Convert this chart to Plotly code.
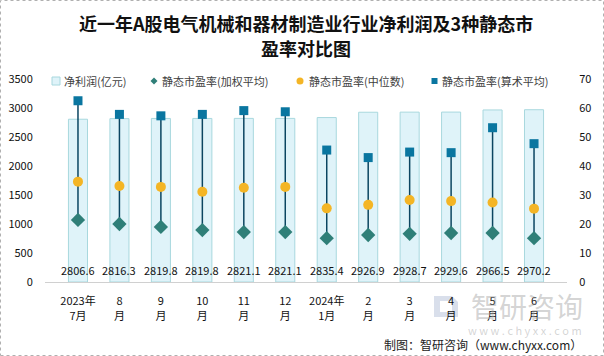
import plotly.graph_objects as go

categories = ["2023年<br>7月", "8<br>月", "9<br>月", "10<br>月", "11<br>月", "12<br>月",
              "2024年<br>1月", "2<br>月", "3<br>月", "4<br>月", "5<br>月", "6<br>月"]
net_profit = [2806.6, 2816.3, 2819.8, 2819.8, 2821.1, 2821.1, 2835.4, 2926.9, 2928.7, 2929.6, 2966.5, 2970.2]
pe_weighted = [21.4, 20.0, 19.0, 17.9, 17.2, 17.2, 15.1, 16.2, 16.6, 16.9, 16.9, 15.1]
pe_median = [34.6, 33.1, 32.8, 31.1, 32.5, 32.8, 25.4, 26.6, 28.3, 27.9, 27.4, 25.3]
pe_arith = [62.5, 57.8, 57.3, 57.8, 59.1, 58.7, 45.5, 42.9, 44.8, 44.6, 53.2, 47.7]
left_ticks = [0, 500, 1000, 1500, 2000, 2500, 3000, 3500]
right_ticks = [0, 10, 20, 30, 40, 50, 60, 70]
series_names = ["净利润(亿元)", "静态市盈率(加权平均)", "静态市盈率(中位数)", "静态市盈率(算术平均)"]

FONT = "Noto Sans CJK SC"
W, H = 604, 356
L, R, T, B = 45, 37, 79, 74
PW, PH = W - L - R, H - T - B

C_BAR, C_BAR_LINE = "#dff3f9", "#a8d8de"
C_W, C_M, C_A, C_LINE = "#2f7f78", "#f4b525", "#0a76a0", "#0b4561"


def px_x(x):
    return (x - L) / PW


def px_y(y):
    return (H - B - y) / PH


fig = go.Figure()

fig.add_trace(go.Bar(
    x=categories, y=net_profit, name=series_names[0],
    marker=dict(color=C_BAR, line=dict(color=C_BAR_LINE, width=1)),
    yaxis="y", showlegend=False,
))

# high-low lines
lx, ly = [], []
for c, hi, lo in zip(categories, pe_arith, pe_weighted):
    lx += [c, c, None]
    ly += [max(hi, lo), min(hi, lo), None]
fig.add_trace(go.Scatter(x=lx, y=ly, mode="lines", line=dict(color=C_LINE, width=1.5),
                         showlegend=False, hoverinfo="skip", yaxis="y2"))

fig.add_trace(go.Scatter(x=categories, y=pe_weighted, mode="markers", name=series_names[1],
                         marker=dict(symbol="diamond", size=11, color=C_W), yaxis="y2",
                         showlegend=False))
fig.add_trace(go.Scatter(x=categories, y=pe_median, mode="markers", name=series_names[2],
                         marker=dict(symbol="circle", size=10, color=C_M), yaxis="y2",
                         showlegend=False))
fig.add_trace(go.Scatter(x=categories, y=pe_arith, mode="markers", name=series_names[3],
                         marker=dict(symbol="square", size=9, color=C_A), yaxis="y2",
                         showlegend=False))

annotations = []
for c, v in zip(categories, net_profit):
    annotations.append(dict(x=c, y=0, xref="x", yref="y", text=f"{v:.1f}", showarrow=False,
                            yshift=12, font=dict(size=11, color="#111111", family=FONT)))

# legend (drawn manually to match spacing)
LEG_Y = 81
leg_text_x = [62, 160, 307, 440]
for name, tx in zip(series_names, leg_text_x):
    annotations.append(dict(x=px_x(tx), y=px_y(LEG_Y), xref="paper", yref="paper",
                            xanchor="left", yanchor="middle", text=name, showarrow=False,
                            font=dict(size=11, color="#404040", family=FONT)))

annotations += [
    dict(x=0.5, y=px_y(23), xref="paper", yref="paper", xanchor="center", yanchor="middle",
         text="<b>近一年A股电气机械和器材制造业行业净利润及3种静态市</b>", showarrow=False,
         font=dict(size=18, color="#111111", family=FONT)),
    dict(x=0.5, y=px_y(48), xref="paper", yref="paper", xanchor="center", yanchor="middle",
         text="<b>盈率对比图</b>", showarrow=False,
         font=dict(size=18, color="#111111", family=FONT)),
    dict(x=px_x(585), y=px_y(306), xref="paper", yref="paper", xanchor="right", yanchor="middle",
         text="智研咨询", showarrow=False,
         font=dict(size=28, color="rgba(160,160,160,0.45)", family=FONT)),
    dict(x=px_x(584), y=px_y(330), xref="paper", yref="paper", xanchor="right", yanchor="middle",
         text="w w w . c h y x x . c o m", showarrow=False,
         font=dict(size=11, color="rgba(160,160,160,0.45)", family=FONT)),
    dict(x=px_x(584), y=px_y(344), xref="paper", yref="paper", xanchor="right", yanchor="middle",
         text="制图：智研咨询（www.chyxx.com）", showarrow=False,
         font=dict(size=12, color="#222222", family=FONT)),
]

shapes = [
    dict(type="rect", xref="paper", yref="paper",
         x0=px_x(0.5), x1=px_x(W - 0.5), y0=px_y(H - 0.5), y1=px_y(0.5),
         line=dict(color="#b0b0b0", width=1, dash="dot")),
    # legend symbols
    dict(type="rect", xref="paper", yref="paper",
         x0=px_x(52), x1=px_x(60), y0=px_y(LEG_Y + 4), y1=px_y(LEG_Y - 4),
         fillcolor=C_BAR, line=dict(color=C_BAR_LINE, width=1)),
    dict(type="path", xref="paper", yref="paper",
         path=(f"M {px_x(154)},{px_y(LEG_Y - 3.5)} L {px_x(157.5)},{px_y(LEG_Y)} "
               f"L {px_x(154)},{px_y(LEG_Y + 3.5)} L {px_x(150.5)},{px_y(LEG_Y)} Z"),
         fillcolor=C_W, line=dict(width=0)),
    dict(type="circle", xref="paper", yref="paper",
         x0=px_x(296.5), x1=px_x(303.5), y0=px_y(LEG_Y + 3.5), y1=px_y(LEG_Y - 3.5),
         fillcolor=C_M, line=dict(width=0)),
    dict(type="rect", xref="paper", yref="paper",
         x0=px_x(431.5), x1=px_x(437.5), y0=px_y(LEG_Y + 3), y1=px_y(LEG_Y - 3),
         fillcolor=C_A, line=dict(width=0)),
    # logo of the watermark (kept below the tick labels)
    dict(type="path", xref="paper", yref="paper", layer="below",
         path=(f"M {px_x(434)},{px_y(296)} L {px_x(452)},{px_y(296)} "
               f"L {px_x(458)},{px_y(302)} L {px_x(458)},{px_y(317)} "
               f"L {px_x(434)},{px_y(317)} Z"),
         fillcolor="rgba(170,185,210,0.45)", line=dict(width=0)),
    dict(type="rect", xref="paper", yref="paper", layer="below",
         x0=px_x(440), x1=px_x(452), y0=px_y(312), y1=px_y(301),
         fillcolor="white", line=dict(width=0)),
]

fig.update_layout(
    width=W, height=H,
    margin=dict(l=L, r=R, t=T, b=B, autoexpand=False),
    paper_bgcolor="white", plot_bgcolor="white",
    font=dict(family=FONT, size=11, color="#111111"),
    bargap=0.54,
    showlegend=False,
    xaxis=dict(type="category", categoryorder="array", categoryarray=categories,
               showline=True, linecolor="#d0d0d0", linewidth=1, ticks="", showgrid=False,
               ticklabelstandoff=9,
               tickfont=dict(size=11, family=FONT, color="#111111")),
    yaxis=dict(range=[0, 3500], tickvals=left_ticks, showgrid=False, zeroline=False,
               showline=False, ticks="outside", ticklen=9, tickcolor="rgba(0,0,0,0)",
               tickfont=dict(size=11, family=FONT, color="#111111")),
    yaxis2=dict(range=[0, 70], tickvals=right_ticks, overlaying="y", side="right",
                showgrid=False, zeroline=False, showline=False,
                ticks="outside", ticklen=9, tickcolor="rgba(0,0,0,0)",
                tickfont=dict(size=11, family=FONT, color="#111111")),
    annotations=annotations,
    shapes=shapes,
)

fig.write_html("out.html", config={"displayModeBar": False},
               post_script="document.body.style.margin='0';")
